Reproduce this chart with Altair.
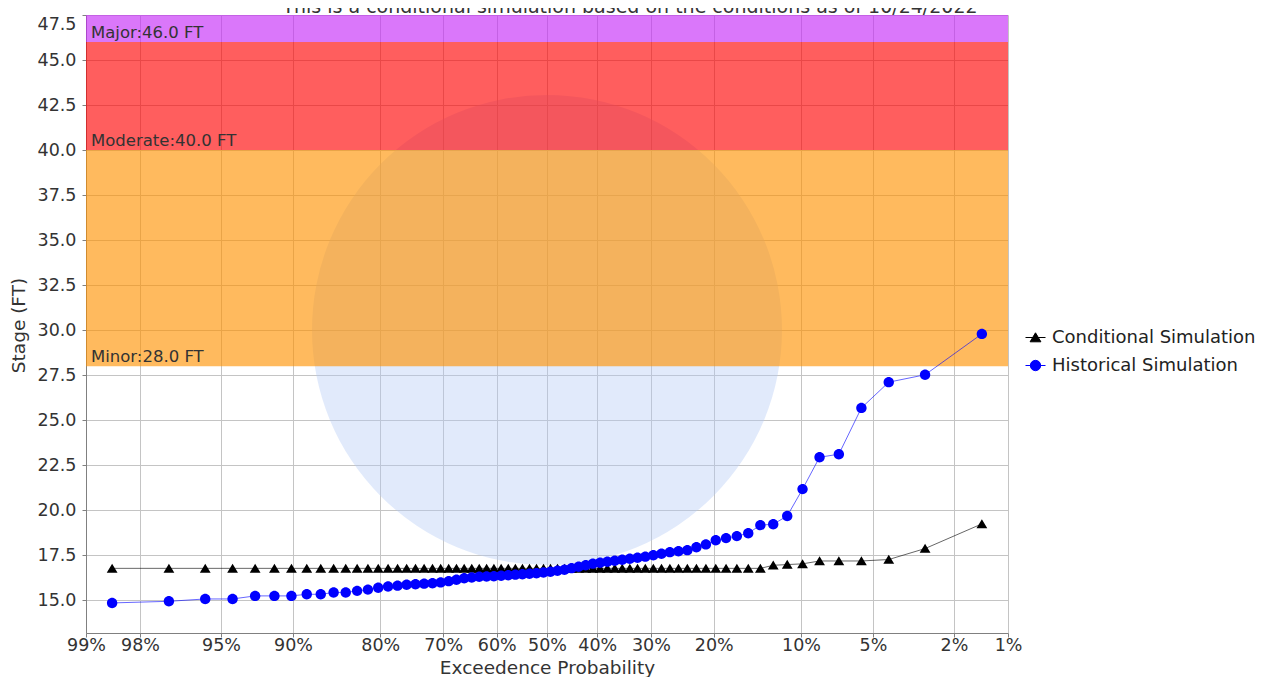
import altair as alt
import pandas as pd
from statistics import NormalDist

# ---------------- data ----------------
exceedance = [
    0.9859, 0.9718, 0.9577, 0.9437, 0.9296, 0.9155, 0.9014, 0.8873, 0.8732, 0.8592,
    0.8451, 0.8310, 0.8169, 0.8028, 0.7887, 0.7746, 0.7606, 0.7465, 0.7324, 0.7183,
    0.7042, 0.6901, 0.6761, 0.6620, 0.6479, 0.6338, 0.6197, 0.6056, 0.5915, 0.5775,
    0.5634, 0.5493, 0.5352, 0.5211, 0.5070, 0.4930, 0.4789, 0.4648, 0.4507, 0.4366,
    0.4225, 0.4085, 0.3944, 0.3803, 0.3662, 0.3521, 0.3380, 0.3239, 0.3099, 0.2958,
    0.2817, 0.2676, 0.2535, 0.2394, 0.2254, 0.2113, 0.1972, 0.1831, 0.1690, 0.1549,
    0.1408, 0.1268, 0.1127, 0.0986, 0.0845, 0.0704, 0.0563, 0.0423, 0.0282, 0.0141,
]
historical = [
    14.85, 14.94, 15.07, 15.07, 15.24, 15.24, 15.24, 15.33, 15.33, 15.43,
    15.43, 15.52, 15.59, 15.69, 15.76, 15.81, 15.86, 15.89, 15.92, 15.94,
    15.99, 16.06, 16.14, 16.22, 16.26, 16.30, 16.32, 16.33, 16.36, 16.39,
    16.42, 16.44, 16.47, 16.50, 16.54, 16.58, 16.64, 16.69, 16.78, 16.86,
    16.94, 17.03, 17.08, 17.14, 17.19, 17.25, 17.30, 17.36, 17.42, 17.50,
    17.58, 17.67, 17.72, 17.78, 17.94, 18.10, 18.33, 18.45, 18.56, 18.72,
    19.17, 19.22, 19.68, 21.17, 22.94, 23.11, 25.68, 27.11, 27.52, 29.79,
]
conditional = [
    16.77, 16.77, 16.77, 16.77, 16.77, 16.77, 16.77, 16.77, 16.77, 16.77,
    16.77, 16.77, 16.77, 16.77, 16.77, 16.77, 16.77, 16.77, 16.77, 16.77,
    16.77, 16.77, 16.77, 16.77, 16.77, 16.77, 16.77, 16.77, 16.77, 16.77,
    16.77, 16.77, 16.77, 16.77, 16.77, 16.77, 16.77, 16.77, 16.77, 16.77,
    16.77, 16.77, 16.77, 16.77, 16.77, 16.77, 16.77, 16.77, 16.77, 16.77,
    16.77, 16.77, 16.77, 16.77, 16.77, 16.77, 16.77, 16.77, 16.77, 16.77,
    16.77, 16.94, 16.98, 17.02, 17.18, 17.18, 17.18, 17.26, 17.87, 19.24,
]
series_names = ["Conditional Simulation", "Historical Simulation"]
tick_probs = [0.99, 0.98, 0.95, 0.90, 0.80, 0.70, 0.60, 0.50, 0.40, 0.30, 0.20, 0.10, 0.05, 0.02, 0.01]
stage_ticks = [15.0, 17.5, 20.0, 22.5, 25.0, 27.5, 30.0, 32.5, 35.0, 37.5, 40.0, 42.5, 45.0, 47.5]
band_names = ["Minor:28.0 FT", "Moderate:40.0 FT", "Major:46.0 FT"]
band_lo = [28.0, 40.0, 46.0]
band_hi = [40.0, 46.0, 47.5]
band_colors = ["#FF9100", "#FF0000", "#C427F7"]
title_text = ["This is a conditional simulation based on the conditions as of 10/24/2022"]

# ---------------- build tables ----------------
nd = NormalDist()
z = [nd.inv_cdf(1 - p) for p in exceedance]
rows = []
for zi, c in zip(z, conditional):
    rows.append({"z": zi, "stage": c, "series": series_names[0]})
for zi, h in zip(z, historical):
    rows.append({"z": zi, "stage": h, "series": series_names[1]})
df = pd.DataFrame(rows)
bands = pd.DataFrame({"name": band_names, "lo": band_lo, "hi": band_hi, "col": band_colors})
tick_z = [nd.inv_cdf(1 - p) for p in tick_probs]
x_dom = [nd.inv_cdf(0.01), nd.inv_cdf(0.99)]
y_dom = [13.18, 47.5]

W, H = 922, 618
FONT = "DejaVu Sans"

xscale = alt.Scale(domain=x_dom, nice=False, zero=False)
yscale = alt.Scale(domain=y_dom, nice=False, zero=False)

xaxis = alt.Axis(
    values=tick_z, labelExpr="format(1 - cumulativeNormal(datum.value), '.0%')",
    title="Exceedence Probability", labelFlush=False, labelOverlap=False,
    tickSize=4, labelPadding=13, labelBaseline="alphabetic",
    titleY=40, titleBaseline="alphabetic", titleX=461,
)
yaxis = alt.Axis(
    values=stage_ticks, format=".1f", title="Stage (FT)", labelFlush=True,
    tickSize=4, labelPadding=6, titleX=-62, titleY=310, titleBaseline="alphabetic",
)

X = alt.X("z:Q", scale=xscale, axis=xaxis)
Y = alt.Y("stage:Q", scale=yscale, axis=yaxis)

# watermark disc
wm = alt.Chart(pd.DataFrame({"k": [0]})).mark_point(
    shape="circle", filled=True, size=220900, color="#b3cbf5", opacity=0.4, strokeWidth=0
).encode(x=alt.value(461), y=alt.value(315))

band_layer = alt.Chart(bands).mark_rect(opacity=0.63).encode(
    x=alt.value(0), x2=alt.value(W),
    y=alt.Y("lo:Q", scale=yscale, axis=yaxis), y2="hi:Q",
    fill=alt.Fill("col:N", scale=None),
)
band_text = alt.Chart(bands).mark_text(
    align="left", baseline="alphabetic", dy=-4, fontSize=16.5, font=FONT, color="#333333"
).encode(x=alt.value(5), y=alt.Y("lo:Q", scale=yscale, axis=yaxis), text="name:N")

# symbol paths: a short line segment (for the legend) plus the marker
tri_path = "M-1,0L1,0M0,-0.47L0.54,0.43L-0.54,0.43Z"
dot_path = "M-1,0L1,0M0.52,0A0.52,0.52,0,1,1,-0.52,0A0.52,0.52,0,1,1,0.52,0Z"

legend = alt.Legend(
    title=None, orient="none", legendX=939, legendY=312,
    labelFont=FONT, labelFontSize=18, labelColor="#222222", labelLimit=400,
    symbolSize=400, rowPadding=8, labelOffset=6,
    symbolStrokeColor={"expr": "datum.value == 'Conditional Simulation' ? '#444444' : '#6b6bff'"},
    symbolStrokeWidth=1, symbolOpacity=1,
)
color = alt.Color("series:N", scale=alt.Scale(domain=series_names, range=["#000000", "#0000ff"]), legend=legend)

lines = alt.Chart(df).mark_line(strokeWidth=1, opacity=0.6).encode(x=X, y=Y, color=color, detail="series:N")
points = alt.Chart(df).mark_point(filled=True, opacity=1, strokeWidth=0, size=400).encode(
    x=X, y=Y, color=color,
    shape=alt.Shape("series:N", scale=alt.Scale(domain=series_names, range=[tri_path, dot_path]), legend=None),
)

title_layer = alt.Chart(pd.DataFrame({"t": title_text})).mark_text(
    align="center", baseline="alphabetic", fontSize=19, font=FONT, color="#333333"
).encode(x=alt.value(544), y=alt.value(-2), text="t:N")

chart = alt.layer(wm, band_layer, band_text, lines, points, title_layer).properties(
    width=W, height=H,
    autosize=alt.AutoSizeParams(type="none"),
    padding={"left": 78, "top": 7, "right": 252, "bottom": 44},
).configure_view(stroke=None).configure_axis(
    labelFont=FONT, titleFont=FONT, labelFontSize=17.5, titleFontSize=18.5,
    labelColor="#333333", titleColor="#333333", titleFontWeight="normal",
    gridColor="#c4c4c4", gridWidth=1, domainColor="#808080", tickColor="#808080",
)

chart.save("out.html", embed_options={"renderer": "svg", "actions": False})
